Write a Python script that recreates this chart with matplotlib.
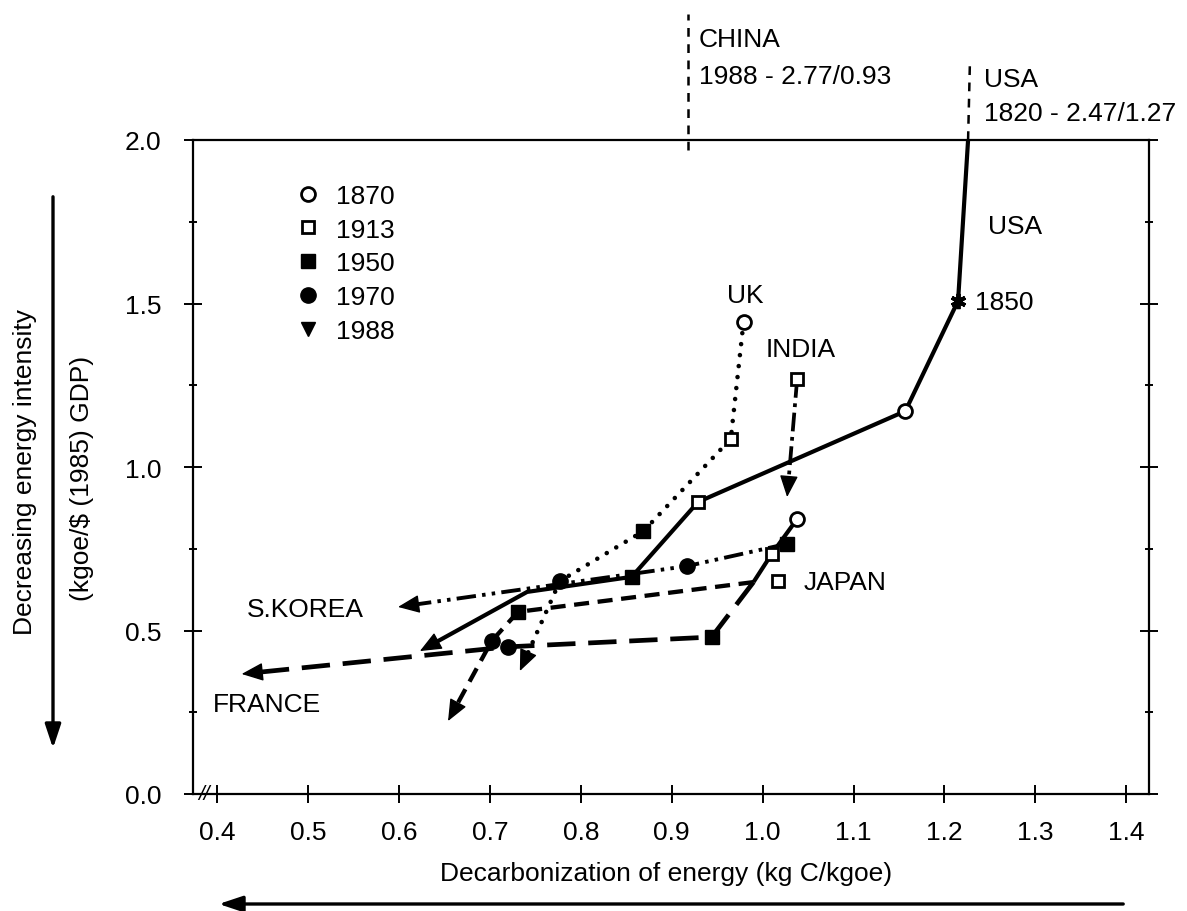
import numpy as np
import matplotlib
matplotlib.use('Agg')
import matplotlib.pyplot as plt
from matplotlib.lines import Line2D
from matplotlib.patches import FancyArrowPatch

plt.rcParams['font.family'] = ['Liberation Sans', 'DejaVu Sans']

# ---------------- data ----------------
# x: decarbonization (kg C/kgoe), y: energy intensity (kgoe/$(1985) GDP)
usa_x = [1.226, 1.215, 1.157, 0.929, 0.856, 0.741, 0.623]
usa_y = [2.000, 1.508, 1.171, 0.893, 0.664, 0.618, 0.437]
usa_years = [None, '1850', '1870', '1913', '1950', None, '1988']
usa_1820_x = [1.226, 1.228]          # link to off-chart 1820 value (2.47/1.27)
usa_1820_y = [2.000, 2.235]

uk_x = [0.979, 0.965, 0.869, 0.777, 0.733]
uk_y = [1.443, 1.086, 0.804, 0.651, 0.376]
uk_years = ['1870', '1913', '1950', '1970', '1988']

india_x = [1.038, 1.027]
india_y = [1.269, 0.908]
india_years = ['1913', '1988']

skorea_x = [1.027, 0.917, 0.599]
skorea_y = [0.765, 0.697, 0.572]
skorea_years = ['1950', '1970', '1988']

japan_early_x = [1.038, 1.010, 0.990]
japan_early_y = [0.841, 0.734, 0.648]
japan_early_years = ['1870', '1913', None]
japan_x = [0.990, 0.731, 0.702, 0.654]
japan_y = [0.648, 0.557, 0.468, 0.223]
japan_years = [None, '1950', '1970', '1988']

france_x = [0.990, 0.944, 0.720, 0.427]
france_y = [0.648, 0.480, 0.450, 0.367]
france_years = [None, '1950', '1970', '1988']
france_1913_x = [1.017]
france_1913_y = [0.651]

china_x = [0.918, 0.918]               # link to off-chart 1988 value (2.77/0.93)
china_y = [1.970, 2.385]

legend_years = ['1870', '1913', '1950', '1970', '1988']
xticks = [0.4, 0.5, 0.6, 0.7, 0.8, 0.9, 1.0, 1.1, 1.2, 1.3, 1.4]
yticks = [0.0, 0.5, 1.0, 1.5, 2.0]

# ---------------- figure ----------------
W, H = 1187, 912
fig = plt.figure(figsize=(W / 100, H / 100), dpi=100)
ax = fig.add_axes([193 / W, 1 - 795 / H, (1149 - 193) / W, (795 - 141) / H])
ax.set_xlim(0.3735, 1.425)
ax.set_ylim(0.0, 2.0)

FS = 19
MK = {
    '1850': dict(marker=(6, 2, 0), ms=11, mew=2.8, mec='k', mfc='k'),
    '1870': dict(marker='o', ms=10, mew=2.0, mec='k', mfc='white'),
    '1913': dict(marker='s', ms=8, mew=2.0, mec='k', mfc='white'),
    '1950': dict(marker='s', ms=10, mew=1.0, mec='k', mfc='k'),
    '1970': dict(marker='o', ms=11, mew=1.0, mec='k', mfc='k'),
    '1988': dict(marker='v', ms=10, mew=1.0, mec='k', mfc='k'),
}

fig.canvas.draw()


def back_off(x, y, px):
    """point that lies px pixels before the last point, along the last segment"""
    t = ax.transData
    p0 = np.array(t.transform((x[-2], y[-2])))
    p1 = np.array(t.transform((x[-1], y[-1])))
    d = p1 - p0
    d = d / np.hypot(*d)
    q = p1 - d * px
    return t.inverted().transform(q)


def draw(x, y, years, ls, lw, arrow=True, capstyle='butt'):
    xs, ys = list(x), list(y)
    if arrow:
        b = back_off(x, y, 10)
        xs[-1], ys[-1] = b[0], b[1]
    ax.plot(xs, ys, color='k', lw=lw, linestyle=ls, dash_capstyle=capstyle,
            solid_capstyle='butt', zorder=2, clip_on=False)
    for xi, yi, yr in zip(x, y, years):
        if yr is not None and yr != '1988':
            ax.plot([xi], [yi], ls='none', zorder=4, clip_on=False, **MK[yr])
    if arrow:
        b = back_off(x, y, 18)
        ax.annotate('', xy=(x[-1], y[-1]), xytext=(b[0], b[1]),
                    arrowprops=dict(arrowstyle='-|>,head_length=0.9,head_width=0.38',
                                    mutation_scale=15, color='k', lw=1.0,
                                    shrinkA=0, shrinkB=0), zorder=3)


# USA
draw(usa_x, usa_y, usa_years, '-', 3.0)
ax.plot(usa_1820_x, usa_1820_y, color='k', lw=1.8, ls=(0, (3.5, 3.0)), clip_on=False)
# UK
draw(uk_x, uk_y, uk_years, (0, (0.01, 2.4)), 3.3, capstyle='round')
# India
draw(india_x, india_y, india_years, (0, (5, 1.5, 1, 1.5)), 2.7)
# S. Korea
draw(skorea_x, skorea_y, skorea_years, (0, (5, 1.6, 0.9, 1.6, 0.9, 1.6)), 2.8)
# Japan
draw(japan_early_x, japan_early_y, japan_early_years, '-', 3.0, arrow=False)
draw(japan_x, japan_y, japan_years, (0, (3.5, 2.0)), 3.1)
# France
draw(france_x, france_y, france_years, (0, (6, 2.7)), 3.4)
ax.plot(france_1913_x, france_1913_y, ls='none', zorder=4, **MK['1913'])
# China
ax.plot(china_x, china_y, color='k', lw=1.8, ls=(0, (3.5, 3.0)), clip_on=False)

# ---------------- labels on the chart ----------------
def lab(x, y, s, ha='left'):
    ax.text(x, y, s, fontsize=FS, ha=ha, va='center', clip_on=False)

lab(0.930, 2.309, 'CHINA')
lab(0.930, 2.196, '1988 - 2.77/0.93')
lab(1.244, 2.187, 'USA')
lab(1.244, 2.083, '1820 - 2.47/1.27')
lab(1.248, 1.737, 'USA')
lab(1.234, 1.505, '1850')
lab(0.981, 1.526, 'UK', ha='center')
lab(1.003, 1.361, 'INDIA')
lab(1.045, 0.648, 'JAPAN')
lab(0.433, 0.566, 'S.KOREA')
lab(0.395, 0.275, 'FRANCE')

# axis break mark at origin
ax.text(0.005, 0.0, '//', transform=ax.transAxes, fontsize=15, style='italic',
        ha='left', va='center', clip_on=False)

# ---------------- legend ----------------
handles = [Line2D([], [], ls='none', **MK[y]) for y in legend_years]
ax.legend(handles, legend_years, loc='upper left', bbox_to_anchor=(0.107, 0.933),
          frameon=False, fontsize=FS, handlelength=1.0, handletextpad=0.55,
          labelspacing=0.37, borderpad=0.0, borderaxespad=0.0)

# ---------------- axes styling ----------------
for s in ax.spines.values():
    s.set_linewidth(1.6)
ax.set_xticks(xticks)
ax.set_xticklabels([f'{v:.1f}' for v in xticks])
ax.set_yticks(yticks)
ax.set_yticklabels([f'{v:.1f}' for v in yticks])
ax.set_yticks(np.arange(0.25, 2.0, 0.5), minor=True)
ax.xaxis.set_ticks_position('bottom')
ax.yaxis.set_ticks_position('both')
ax.tick_params(axis='x', which='major', direction='inout', length=13, width=1.4,
               pad=12, labelsize=FS)
ax.tick_params(axis='y', which='major', direction='inout', length=13, width=1.4,
               pad=16, labelsize=FS, labelright=False)
ax.tick_params(axis='y', which='minor', direction='inout', length=6, width=1.4)

# axis titles
fig.text(666 / W, 1 - 874 / H, 'Decarbonization of energy (kg C/kgoe)',
         fontsize=FS, ha='center', va='center')
fig.text(25 / W, 1 - 472 / H, 'Decreasing energy intensity', fontsize=FS,
         rotation=90, ha='center', va='center')
fig.text(82 / W, 1 - 478 / H, '(kgoe/$ (1985) GDP)', fontsize=FS,
         rotation=90, ha='center', va='center')

# direction arrows
fig.add_artist(FancyArrowPatch((53 / W, 1 - 195 / H), (53 / W, 1 - 752 / H),
                               transform=fig.transFigure,
                               arrowstyle='-|>,head_length=0.9,head_width=0.3',
                               mutation_scale=16, color='k', lw=2.4))
fig.add_artist(FancyArrowPatch((1126 / W, 1 - 905 / H), (216 / W, 1 - 905 / H),
                               transform=fig.transFigure,
                               arrowstyle='-|>,head_length=0.9,head_width=0.3',
                               mutation_scale=16, color='k', lw=2.4))

fig.savefig('out.png', dpi=100)
